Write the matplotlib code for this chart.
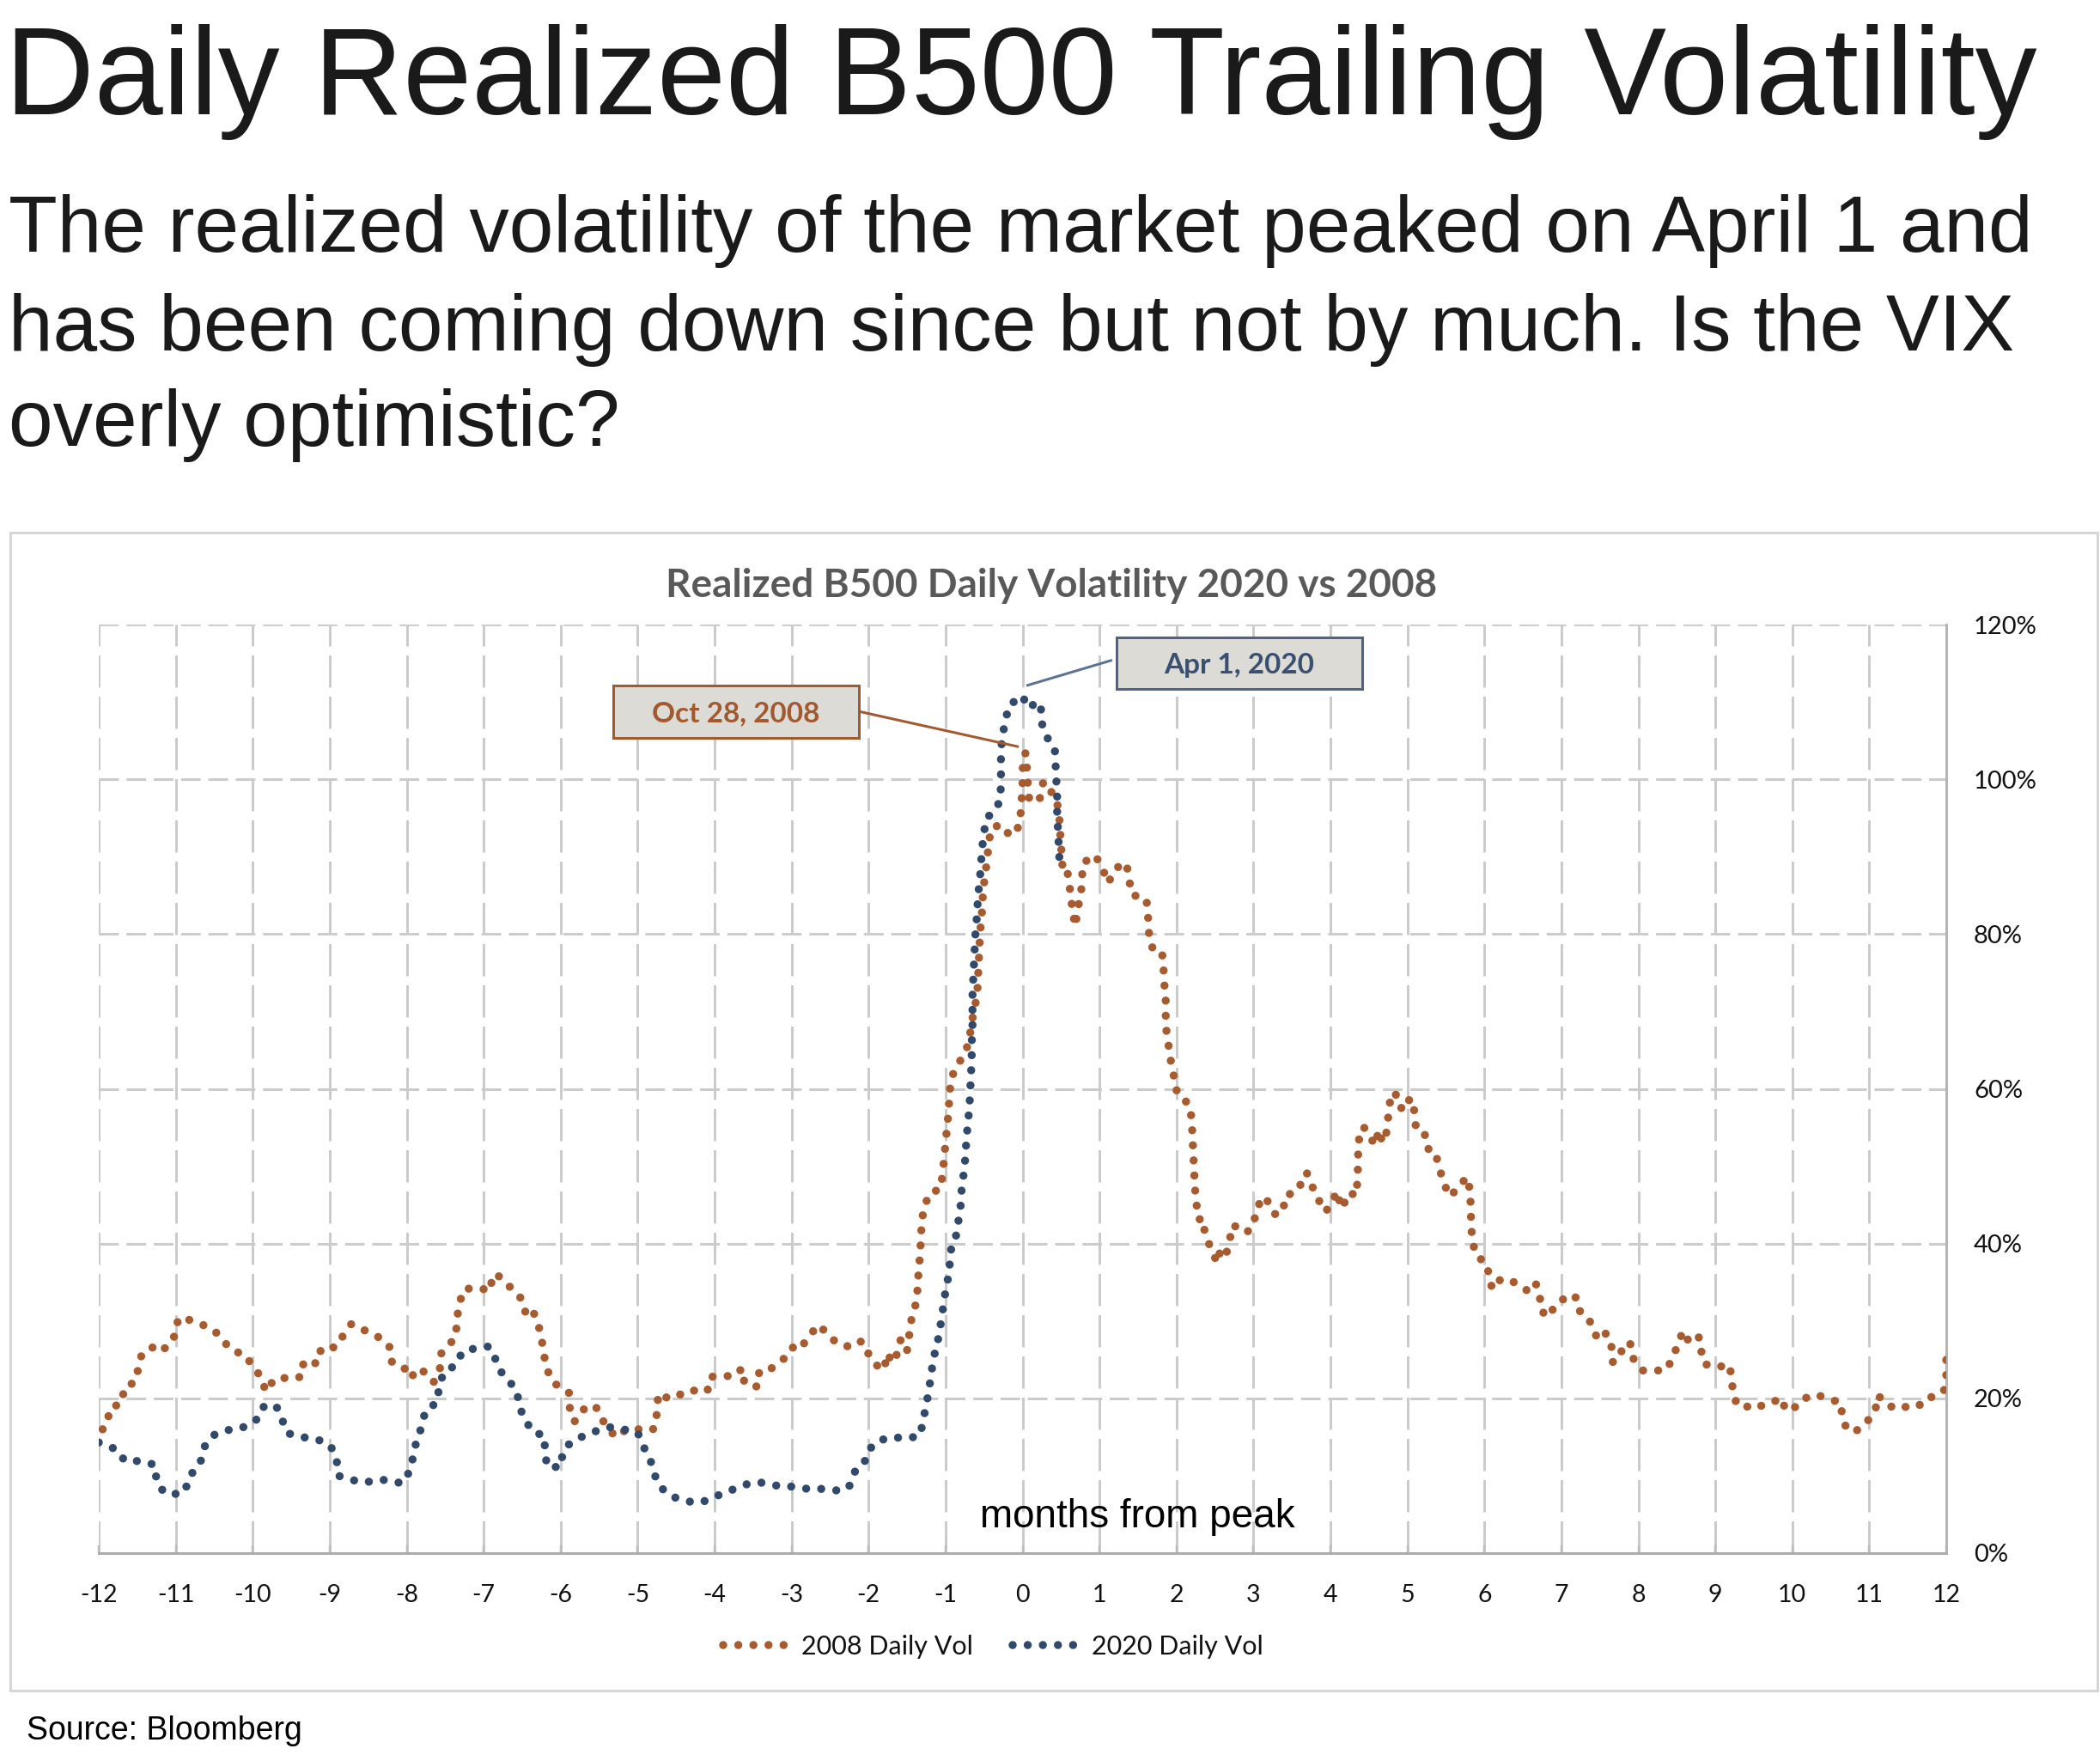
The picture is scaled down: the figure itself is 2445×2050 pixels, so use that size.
import matplotlib
matplotlib.use("Agg")
import matplotlib.pyplot as plt
from matplotlib.patches import Rectangle

plt.rcParams["axes.unicode_minus"] = False

# ---------------- data (months from peak, realized vol in %) ----------------
months_2008 = [-11.95, -11.89, -11.86, -11.70, -11.67, -11.53, -11.48, -11.44, -11.26, -11.17,
               -11.03, -10.99, -10.94, -10.78, -10.67, -10.50, -10.39, -10.27, -10.09, -10.01,
               -9.90, -9.83, -9.78, -9.64, -9.55, -9.36, -9.34, -9.16, -9.11, -8.92,
               -8.82, -8.72, -8.65, -8.48, -8.34, -8.22, -8.19, -8.03, -7.95, -7.85,
               -7.74, -7.65, -7.57, -7.56, -7.45, -7.36, -7.35, -7.32, -7.26, -7.08,
               -6.91, -6.89, -6.83, -6.71, -6.60, -6.51, -6.45, -6.37, -6.30, -6.25,
               -6.22, -6.18, -6.10, -5.95, -5.89, -5.88, -5.82, -5.72, -5.55, -5.48,
               -5.29, -5.14, -4.94, -4.81, -4.76, -4.75, -4.73, -4.60, -4.52, -4.34,
               -4.21, -4.09, -4.05, -3.88, -3.70, -3.65, -3.61, -3.44, -3.42, -3.30,
               -3.15, -3.00, -2.97, -2.86, -2.76, -2.65, -2.53, -2.41, -2.22, -2.09,
               -2.01, -1.90, -1.79, -1.77, -1.67, -1.62, -1.58, -1.50, -1.47, -1.44,
               -1.38, -1.36, -1.35, -1.33, -1.32, -1.31, -1.28, -1.20, -1.07, -1.04,
               -1.02, -1.00, -0.98, -0.96, -0.95, -0.93, -0.89, -0.80, -0.71, -0.68,
               -0.65, -0.62, -0.59, -0.58, -0.57, -0.56, -0.55, -0.53, -0.52, -0.50,
               -0.49, -0.46, -0.44, -0.41, -0.30, -0.24, -0.10, -0.03, -0.02, 0.00,
               0.00, 0.01, 0.04, 0.06, 0.07, 0.09, 0.23, 0.27, 0.33, 0.43,
               0.46, 0.48, 0.50, 0.49, 0.51, 0.50, 0.52, 0.57, 0.60, 0.63,
               0.65, 0.69, 0.71, 0.76, 0.77, 0.79, 0.94, 1.04, 1.10, 1.14,
               1.23, 1.35, 1.38, 1.42, 1.61, 1.63, 1.64, 1.68, 1.81, 1.83,
               1.84, 1.86, 1.86, 1.87, 1.90, 1.93, 1.97, 2.01, 2.06, 2.12,
               2.18, 2.20, 2.21, 2.22, 2.23, 2.24, 2.26, 2.29, 2.34, 2.37,
               2.45, 2.53, 2.57, 2.64, 2.69, 2.73, 2.79, 2.91, 3.00, 3.04,
               3.13, 3.25, 3.29, 3.39, 3.43, 3.52, 3.60, 3.69, 3.75, 3.83,
               3.94, 4.04, 4.11, 4.12, 4.17, 4.24, 4.34, 4.35, 4.36, 4.36,
               4.38, 4.43, 4.51, 4.58, 4.63, 4.67, 4.71, 4.74, 4.76, 4.79,
               4.88, 4.93, 5.04, 5.10, 5.11, 5.25, 5.28, 5.37, 5.42, 5.47,
               5.50, 5.55, 5.66, 5.77, 5.82, 5.82, 5.83, 5.84, 5.89, 6.04,
               6.06, 6.11, 6.21, 6.30, 6.45, 6.56, 6.66, 6.72, 6.73, 6.83,
               6.93, 7.07, 7.18, 7.21, 7.35, 7.42, 7.49, 7.58, 7.65, 7.67,
               7.74, 7.83, 7.89, 7.93, 8.06, 8.25, 8.37, 8.46, 8.53, 8.58,
               8.67, 8.79, 8.81, 8.85, 8.99, 9.19, 9.21, 9.24, 9.28, 9.41,
               9.46, 9.53, 9.72, 9.85, 9.92, 10.09, 10.16, 10.31, 10.50, 10.63,
               10.65, 10.72, 10.85, 10.98, 11.08, 11.11, 11.26, 11.42, 11.54, 11.70,
               11.85, 11.97, 12.00, 12.00]
vol_2008 = [16.0, 16.6, 18.7, 19.4, 21.4, 22.1, 24.1, 25.8, 26.8, 26.2,
            27.6, 29.6, 30.5, 30.0, 29.6, 28.8, 27.5, 26.2, 25.6, 24.2,
            22.9, 20.9, 21.8, 22.8, 22.5, 22.8, 24.8, 24.5, 26.5, 26.6,
            28.2, 29.6, 29.4, 28.4, 27.8, 26.6, 24.6, 23.9, 22.6, 23.9,
            23.2, 22.1, 23.6, 25.7, 26.9, 28.0, 30.0, 32.1, 34.1, 34.3,
            33.9, 35.9, 36.0, 35.0, 33.7, 32.9, 30.9, 31.5, 29.9, 27.9,
            25.8, 23.8, 22.1, 21.0, 20.7, 18.6, 17.0, 18.5, 19.1, 17.5,
            15.0, 16.0, 16.0, 15.9, 16.5, 18.5, 20.6, 20.0, 20.5, 20.5,
            21.4, 21.1, 22.8, 22.8, 23.1, 23.9, 21.9, 21.5, 23.5, 23.6,
            24.7, 26.0, 27.0, 26.8, 28.2, 29.5, 28.3, 27.1, 26.6, 27.4,
            25.9, 24.3, 23.7, 25.8, 24.6, 26.1, 27.7, 26.2, 28.3, 30.4,
            32.4, 34.5, 36.5, 38.6, 40.7, 42.7, 44.7, 46.6, 47.0, 48.8,
            50.9, 52.9, 55.0, 57.1, 59.1, 61.2, 62.2, 63.8, 65.6, 67.2,
            69.1, 70.7, 71.9, 74.0, 76.1, 78.2, 80.3, 82.3, 84.4, 86.5,
            87.4, 89.5, 91.6, 93.6, 94.1, 93.2, 92.8, 94.5, 96.6, 98.7,
            100.7, 102.8, 103.4, 101.2, 99.2, 97.1, 97.6, 99.7, 98.8, 97.8,
            96.4, 94.7, 94.3, 92.6, 92.2, 90.1, 88.8, 89.0, 86.9, 84.8,
            82.8, 81.0, 83.1, 85.0, 87.1, 89.2, 90.2, 88.6, 86.6, 87.1,
            88.6, 89.2, 87.3, 85.1, 84.5, 82.4, 80.3, 78.3, 77.9, 75.9,
            73.8, 71.7, 69.6, 67.5, 65.4, 63.4, 61.4, 59.4, 59.0, 58.4,
            57.6, 55.5, 53.5, 51.3, 49.3, 47.2, 45.1, 43.1, 43.3, 41.3,
            39.3, 37.5, 39.1, 38.4, 40.4, 42.4, 42.1, 41.4, 42.4, 44.5,
            46.1, 44.7, 43.6, 44.7, 46.4, 46.4, 47.4, 49.2, 47.7, 45.9,
            44.1, 45.9, 46.7, 44.6, 45.0, 46.6, 46.2, 48.3, 50.4, 52.5,
            54.1, 55.1, 53.9, 52.7, 54.7, 53.2, 53.2, 55.3, 57.3, 59.5,
            59.1, 57.2, 58.8, 56.8, 54.7, 53.9, 51.8, 51.5, 49.5, 48.1,
            47.2, 46.1, 47.2, 48.6, 46.7, 44.6, 42.5, 40.5, 38.5, 37.3,
            35.3, 34.1, 35.4, 35.4, 34.7, 33.9, 35.0, 33.5, 31.4, 30.5,
            32.2, 33.1, 33.3, 31.5, 30.5, 28.6, 27.5, 28.4, 26.7, 24.6,
            25.5, 26.8, 27.3, 25.2, 23.6, 23.6, 23.7, 25.6, 27.4, 28.7,
            27.1, 27.9, 26.5, 24.5, 24.0, 24.3, 22.2, 20.6, 19.1, 18.9,
            19.2, 18.9, 19.3, 20.1, 18.4, 19.1, 20.0, 20.5, 19.8, 19.5,
            17.4, 15.8, 15.9, 17.1, 18.5, 20.4, 19.0, 18.6, 19.3, 19.1,
            20.6, 21.0, 23.0, 25.0]

months_2020 = [-12.00, -11.96, -11.77, -11.66, -11.45, -11.27, -11.25, -11.15, -11.05, -10.95,
               -10.83, -10.78, -10.68, -10.63, -10.52, -10.33, -10.19, -10.02, -9.91, -9.85,
               -9.69, -9.62, -9.55, -9.36, -9.16, -8.99, -8.91, -8.89, -8.73, -8.55,
               -8.37, -8.22, -8.06, -7.96, -7.91, -7.87, -7.80, -7.76, -7.60, -7.58,
               -7.52, -7.35, -7.28, -7.10, -6.93, -6.86, -6.79, -6.68, -6.57, -6.53,
               -6.46, -6.34, -6.22, -6.20, -6.18, -6.00, -5.97, -5.86, -5.71, -5.56,
               -5.38, -5.19, -5.00, -4.92, -4.83, -4.78, -4.69, -4.55, -4.36, -4.19,
               -4.01, -3.88, -3.71, -3.53, -3.36, -3.14, -2.98, -2.79, -2.61, -2.41,
               -2.26, -2.18, -2.06, -2.01, -1.88, -1.69, -1.50, -1.33, -1.29, -1.25,
               -1.21, -1.19, -1.15, -1.13, -1.09, -1.06, -1.03, -1.00, -0.96, -0.94,
               -0.92, -0.86, -0.83, -0.80, -0.79, -0.76, -0.74, -0.73, -0.71, -0.69,
               -0.68, -0.67, -0.66, -0.66, -0.65, -0.65, -0.65, -0.64, -0.63, -0.62,
               -0.61, -0.59, -0.58, -0.56, -0.54, -0.53, -0.50, -0.48, -0.36, -0.29,
               -0.28, -0.28, -0.28, -0.26, -0.22, -0.18, -0.06, 0.00, 0.07, 0.20,
               0.24, 0.24, 0.30, 0.42, 0.43, 0.44, 0.45, 0.45, 0.46, 0.47,
               0.48]
vol_2020 = [14.3, 14.1, 13.4, 11.9, 11.9, 11.4, 9.3, 7.8, 7.8, 7.5,
            9.0, 10.5, 11.7, 13.7, 15.2, 15.9, 16.0, 16.7, 17.6, 19.1,
            18.9, 17.3, 15.5, 15.0, 14.7, 13.9, 12.1, 10.0, 9.5, 9.1,
            9.5, 9.4, 9.0, 10.6, 12.7, 14.7, 16.4, 18.4, 19.5, 21.6,
            23.3, 24.4, 26.0, 26.5, 26.7, 25.4, 23.6, 22.4, 20.9, 18.8,
            17.1, 15.5, 15.3, 13.2, 11.2, 11.1, 13.2, 14.4, 15.1, 15.7,
            16.3, 16.0, 15.6, 13.7, 11.9, 10.1, 8.4, 7.3, 6.7, 6.5,
            7.2, 7.8, 8.4, 9.1, 9.1, 8.6, 8.6, 8.3, 8.3, 8.1,
            8.4, 10.5, 11.5, 13.2, 14.5, 15.0, 14.8, 15.2, 17.2, 19.2,
            21.3, 23.3, 24.9, 26.9, 27.8, 29.8, 31.8, 33.9, 35.9, 38.0,
            40.0, 41.1, 43.1, 45.2, 47.2, 49.3, 51.4, 53.4, 55.5, 57.6,
            59.7, 61.7, 63.8, 65.9, 68.0, 70.1, 72.1, 74.2, 76.3, 78.4,
            80.4, 82.5, 84.6, 86.6, 88.7, 90.8, 92.9, 94.9, 95.9, 97.3,
            99.4, 101.5, 103.6, 105.7, 107.6, 109.5, 110.4, 110.8, 109.2, 110.0,
            109.7, 107.6, 105.7, 103.9, 101.9, 99.8, 97.7, 95.7, 93.7, 91.5,
            89.5]

x_ticks = list(range(-12, 13))
y_ticks = [0, 20, 40, 60, 80, 100, 120]
y_tick_labels = [f"{v}%" for v in y_ticks]
series_labels = ["2008 Daily Vol", "2020 Daily Vol"]
annot_labels = ["Oct 28, 2008", "Apr 1, 2020"]
annot_points_x = [-0.05, 0.05]
annot_points_y = [104.2, 112.1]

# ---------------- styling ----------------
ORANGE = "#A85B2E"
BLUE = "#31496A"
GRID = "#CBCBCB"
FIG_W, FIG_H = 2445, 2050
DPI = 100
PX = 72.0 / DPI  # points per pixel

fig = plt.figure(figsize=(FIG_W / DPI, FIG_H / DPI), dpi=DPI)
fig.patch.set_facecolor("white")

# outer chart frame
fig.patches.append(Rectangle((12 / FIG_W, 1 - 1968 / FIG_H), 2430 / FIG_W, 1348 / FIG_H,
                             transform=fig.transFigure, fill=False, edgecolor="#D6D6D6",
                             linewidth=3 * PX, zorder=0))

# plot area
left, right, top, bottom = 115, 2266, 727, 1808
ax = fig.add_axes([left / FIG_W, 1 - bottom / FIG_H, (right - left) / FIG_W, (bottom - top) / FIG_H])
ax.set_xlim(-12, 12)
ax.set_ylim(0, 120)

lw_dot = 9.5 * PX
dot_style = (0, (0.001, 1.85))
ax.plot(months_2008, vol_2008, color=ORANGE, lw=lw_dot, linestyle=dot_style,
        dash_capstyle="round", label=series_labels[0], zorder=3)
ax.plot(months_2020, vol_2020, color=BLUE, lw=lw_dot, linestyle=dot_style,
        dash_capstyle="round", label=series_labels[1], zorder=4)

# grid
ax.set_xticks(x_ticks)
ax.set_yticks(y_ticks)
ax.set_yticklabels(y_tick_labels)
glw = 3 * PX
ax.xaxis.grid(True, color=GRID, linewidth=glw, linestyle=(0, (12.5, 3.5)))
ax.yaxis.grid(True, color=GRID, linewidth=glw, linestyle=(0, (7.6, 3.0)))
ax.set_axisbelow(True)

for s in ["top", "left"]:
    ax.spines[s].set_visible(False)
ax.spines["bottom"].set_color("#ABABAB")
ax.spines["bottom"].set_linewidth(3 * PX)
ax.spines["right"].set_color("#B5B5B5")
ax.spines["right"].set_linewidth(3 * PX)

ax.yaxis.tick_right()
tick_font = "Lato"
ax.tick_params(axis="x", direction="in", length=9 * PX, width=2.5 * PX, color="#BDBDBD",
               pad=36 * PX, labelsize=20.5, labelcolor="#111111")
ax.tick_params(axis="y", length=0, pad=32 * PX, labelsize=21, labelcolor="#111111")
for lab in ax.get_xticklabels() + ax.get_yticklabels():
    lab.set_fontfamily(tick_font)

# "months from peak"
ax.text(1.49, 3.3, "months from peak", ha="center", va="baseline", fontsize=33,
        family="Liberation Sans", color="black")

# annotations
def box(x0, x1, y0, y1, edge, txt, tcolor):
    ax.add_patch(Rectangle((x0, y0), x1 - x0, y1 - y0, facecolor="#DDDBD6", edgecolor=edge,
                           linewidth=3 * PX, zorder=6, clip_on=False))
    ax.text((x0 + x1) / 2, (y0 + y1) / 2, txt, ha="center", va="center_baseline", fontsize=24,
            fontweight="bold", family="Lato", color=tcolor, zorder=7)

box(-5.317, -2.126, 105.4, 112.1, "#A3592F", annot_labels[0], "#A3592F")
ax.plot([-2.126, annot_points_x[0]], [108.77, annot_points_y[0]], color="#A3592F",
        lw=3 * PX, zorder=6, solid_capstyle="butt")
box(1.221, 4.412, 111.65, 118.3, "#4D6487", annot_labels[1], "#3A5070")
ax.plot([1.165, annot_points_x[1]], [115.4, annot_points_y[1]], color="#5A7394",
        lw=3 * PX, zorder=6, solid_capstyle="butt")

# legend
leg = ax.legend(loc="center", bbox_to_anchor=(0.484, -0.101), ncol=2, frameon=False,
                prop={"family": "Lato", "size": 22}, handlelength=2.6, handletextpad=0.4,
                columnspacing=1.5)
for t in leg.get_texts():
    t.set_color("#111111")

# chart title
fig.text(1224 / FIG_W, 1 - 695 / FIG_H, "Realized B500 Daily Volatility 2020 vs 2008",
         ha="center", va="baseline", fontsize=33, fontweight="bold", family="Lato",
         color="#595959")

# headline + subtitle
fig.text(6 / FIG_W, 1 - 133 / FIG_H, "Daily Realized B500 Trailing Volatility", ha="left",
         va="baseline", fontsize=103.5, family="Liberation Sans", color="#1a1a1a")
sub_lines = ["The realized volatility of the market peaked on April 1 and",
             "has been coming down since but not by much. Is the VIX",
             "overly optimistic?"]
for line, base in zip(sub_lines, [293, 408, 519]):
    fig.text(10 / FIG_W, 1 - base / FIG_H, line, ha="left", va="baseline", fontsize=66.8,
             family="Liberation Sans", color="#1a1a1a")

fig.text(31 / FIG_W, 1 - 2025 / FIG_H, "Source: Bloomberg", ha="left", va="baseline",
         fontsize=27, family="Liberation Sans", color="black")

fig.savefig("out.png", dpi=DPI, facecolor="white")
